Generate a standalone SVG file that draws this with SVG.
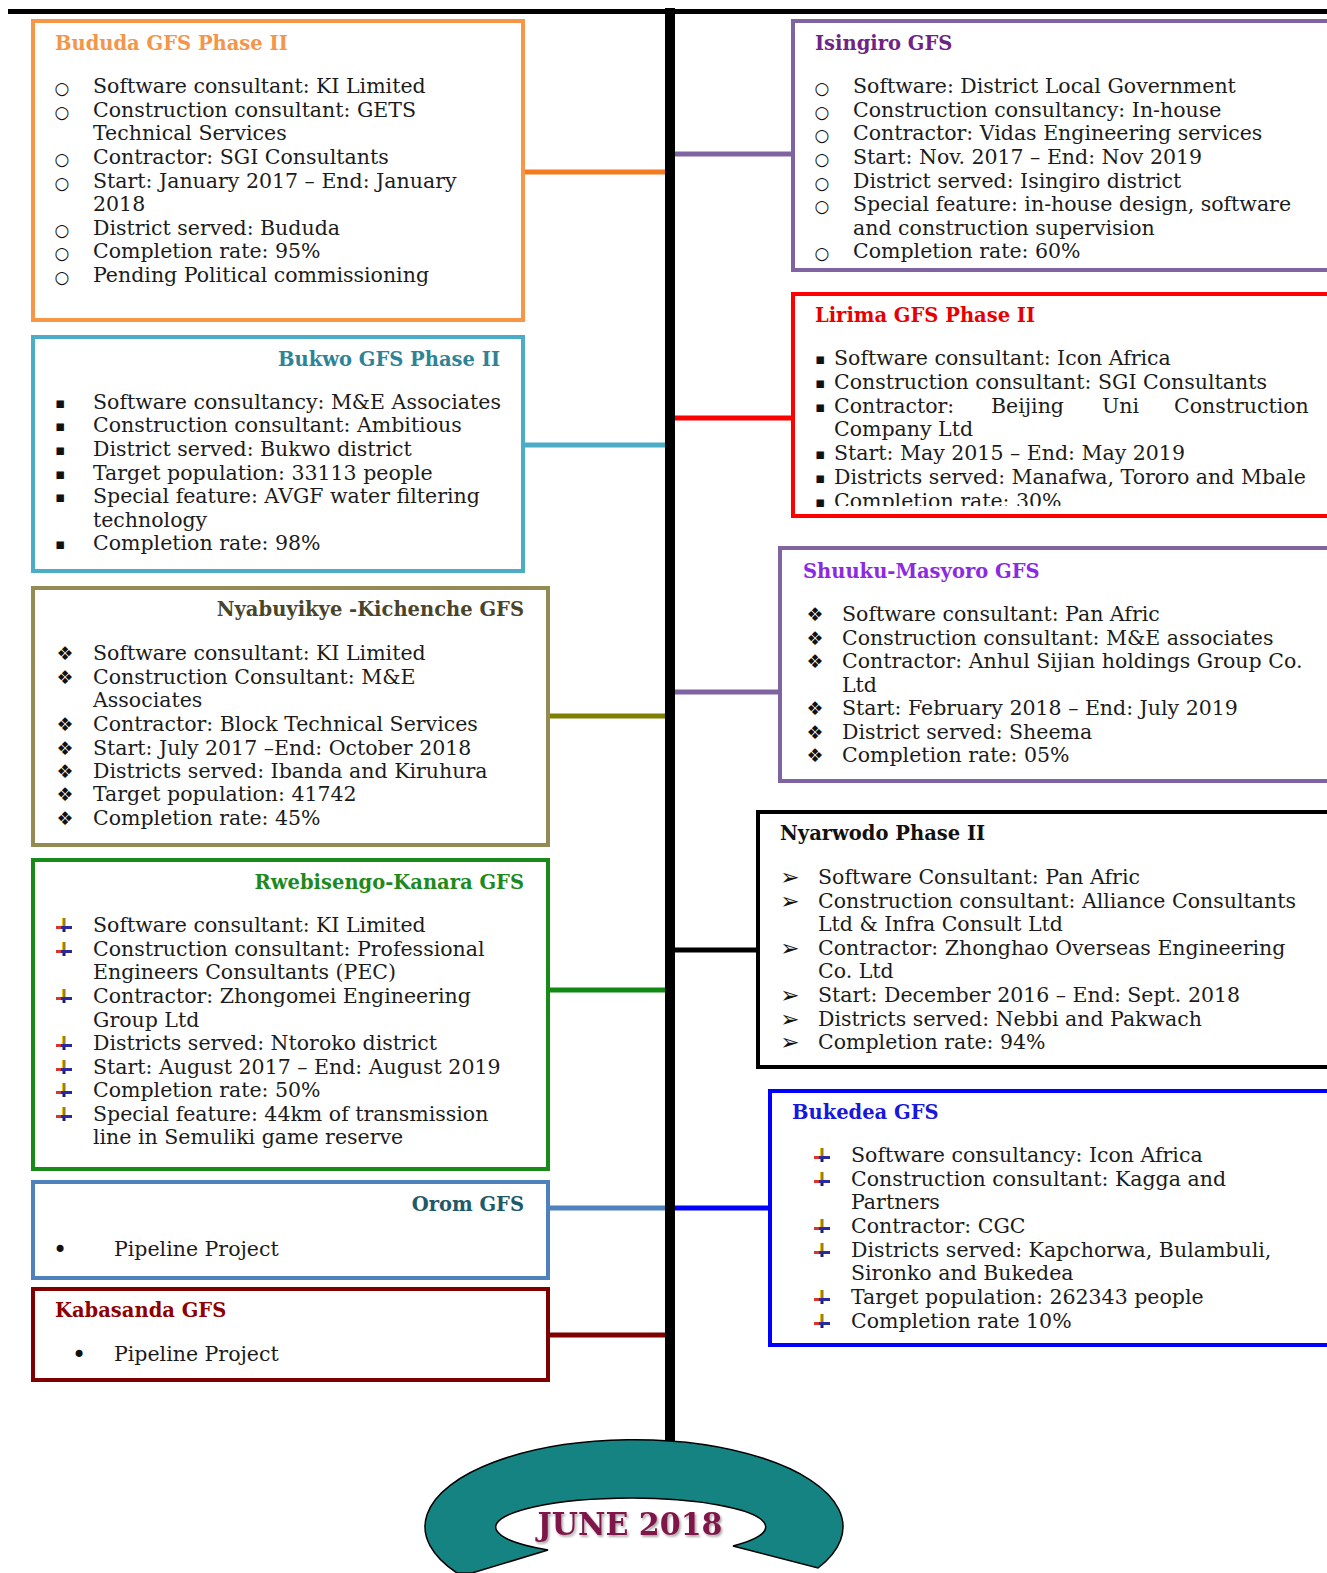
<svg xmlns="http://www.w3.org/2000/svg" xmlns:xlink="http://www.w3.org/1999/xlink" width="1327" height="1573" viewBox="0 0 1327 1573">
<style>
.t{font-family:"DejaVu Serif","Liberation Serif",serif;font-size:20.5px;fill:#1b1b1b}
.h{font-family:"DejaVu Serif","Liberation Serif",serif;font-size:19.5px;font-weight:bold}
.r{text-anchor:end}
.b{font-family:"DejaVu Sans",sans-serif;fill:#111;text-anchor:middle}
.bo{font-size:17px}
.bs{font-size:15px}
.bd{font-size:19px}
.ba{font-size:23px}
.bb{font-size:24px}
.box{fill:#fff;stroke-width:4}
.c{stroke-width:5;fill:none}
</style>
<defs>
<g id="ab">
<rect x="-2" y="-14" width="4" height="8" fill="#F2C200"/>
<rect x="-0.8" y="-14" width="1.6" height="8" fill="#7a6a40"/>
<rect x="-8" y="-6" width="16" height="3" fill="#2A2AA0"/>
<rect x="-8" y="-6" width="5" height="3" fill="#D8352C"/>
<rect x="-1.5" y="-3" width="3" height="3" fill="#1C1C6E"/>
</g>
<clipPath id="lirClip"><rect x="790" y="290" width="600" height="216"/></clipPath>
<filter id="sh" x="-10%" y="-30%" width="120%" height="160%"><feDropShadow dx="1.5" dy="2" stdDeviation="1.2" flood-color="#000" flood-opacity="0.35"/></filter>
</defs>
<rect width="1327" height="1573" fill="#fff"/>

<g id="connectors">
<path class="c" d="M523 172 H668" stroke="#F47B20"/>
<path class="c" d="M523 445 H668" stroke="#4BACC6"/>
<path class="c" d="M548 716 H668" stroke="#7F7F00"/>
<path class="c" d="M548 990 H668" stroke="#118811"/>
<path class="c" d="M548 1208 H668" stroke="#4F81BD"/>
<path class="c" d="M548 1335 H668" stroke="#7F0000"/>
<path class="c" d="M672 154 H793" stroke="#8064A2"/>
<path class="c" d="M672 418 H793" stroke="#FF0000"/>
<path class="c" d="M672 692 H780" stroke="#8064A2"/>
<path class="c" d="M672 950 H758" stroke="#000"/>
<path class="c" d="M672 1208 H770" stroke="#0000FF"/>
</g>

<g id="timeline">
<rect x="8" y="9" width="1319" height="5" fill="#000"/>
<rect x="665" y="8" width="10" height="1434" fill="#000"/>
</g>

<g id="bududa">
<rect class="box" x="33" y="21" width="490" height="299" stroke="#F79646"/>
<text class="h" x="55" y="50" fill="#F3954A">Bududa GFS Phase II</text>
<g class="b bo"><text x="62" y="94">○</text><text x="62" y="118">○</text><text x="62" y="165">○</text><text x="62" y="189">○</text><text x="62" y="236">○</text><text x="62" y="259">○</text><text x="62" y="283">○</text></g>
<text class="t" x="93" y="93">Software consultant: KI Limited</text>
<text class="t" x="93" y="117">Construction consultant: GETS</text>
<text class="t" x="93" y="140">Technical Services</text>
<text class="t" x="93" y="164">Contractor: SGI Consultants</text>
<text class="t" x="93" y="188">Start: January 2017 – End: January</text>
<text class="t" x="93" y="211">2018</text>
<text class="t" x="93" y="235">District served: Bududa</text>
<text class="t" x="93" y="258">Completion rate: 95%</text>
<text class="t" x="93" y="282">Pending Political commissioning</text>
</g>

<g id="bukwo">
<rect class="box" x="33" y="337" width="490" height="234" stroke="#4BACC6"/>
<text class="h r" x="500" y="366" fill="#2E8496">Bukwo GFS Phase II</text>
<g class="b bs"><text x="60" y="408">▪</text><text x="60" y="431">▪</text><text x="60" y="455">▪</text><text x="60" y="479">▪</text><text x="60" y="502">▪</text><text x="60" y="549">▪</text></g>
<text class="t" x="93" y="409">Software consultancy: M&amp;E Associates</text>
<text class="t" x="93" y="432">Construction consultant: Ambitious</text>
<text class="t" x="93" y="456">District served: Bukwo district</text>
<text class="t" x="93" y="480">Target population: 33113 people</text>
<text class="t" x="93" y="503">Special feature: AVGF water filtering</text>
<text class="t" x="93" y="527">technology</text>
<text class="t" x="93" y="550">Completion rate: 98%</text>
</g>

<g id="nyabuyikye">
<rect class="box" x="33" y="588" width="515" height="257" stroke="#948A54"/>
<text class="h r" x="524" y="616" fill="#4A452A">Nyabuyikye -Kichenche GFS</text>
<g class="b bd"><text x="65" y="660">❖</text><text x="65" y="684">❖</text><text x="65" y="731">❖</text><text x="65" y="755">❖</text><text x="65" y="778">❖</text><text x="65" y="801">❖</text><text x="65" y="825">❖</text></g>
<text class="t" x="93" y="660">Software consultant: KI Limited</text>
<text class="t" x="93" y="684">Construction Consultant: M&amp;E</text>
<text class="t" x="93" y="707">Associates</text>
<text class="t" x="93" y="731">Contractor: Block Technical Services</text>
<text class="t" x="93" y="755">Start: July 2017 –End: October 2018</text>
<text class="t" x="93" y="778">Districts served: Ibanda and Kiruhura</text>
<text class="t" x="93" y="801">Target population: 41742</text>
<text class="t" x="93" y="825">Completion rate: 45%</text>
</g>

<g id="rwebisengo">
<rect class="box" x="33" y="860" width="515" height="309" stroke="#178A17"/>
<text class="h r" x="524" y="889" fill="#1E8A1E">Rwebisengo-Kanara GFS</text>
<use xlink:href="#ab" x="64" y="932"/><use xlink:href="#ab" x="64" y="956"/><use xlink:href="#ab" x="64" y="1003"/><use xlink:href="#ab" x="64" y="1050"/><use xlink:href="#ab" x="64" y="1074"/><use xlink:href="#ab" x="64" y="1097"/><use xlink:href="#ab" x="64" y="1121"/>
<text class="t" x="93" y="932">Software consultant: KI Limited</text>
<text class="t" x="93" y="956">Construction consultant: Professional</text>
<text class="t" x="93" y="979">Engineers Consultants (PEC)</text>
<text class="t" x="93" y="1003">Contractor: Zhongomei Engineering</text>
<text class="t" x="93" y="1027">Group Ltd</text>
<text class="t" x="93" y="1050">Districts served: Ntoroko district</text>
<text class="t" x="93" y="1074">Start: August 2017 – End: August 2019</text>
<text class="t" x="93" y="1097">Completion rate: 50%</text>
<text class="t" x="93" y="1121">Special feature: 44km of transmission</text>
<text class="t" x="93" y="1144">line in Semuliki game reserve</text>
</g>

<g id="orom">
<rect class="box" x="33" y="1182" width="515" height="96" stroke="#4F81BD"/>
<text class="h r" x="524" y="1211" fill="#215968">Orom GFS</text>
<text class="b bb" x="60" y="1258">•</text>
<text class="t" x="114" y="1256">Pipeline Project</text>
</g>

<g id="kabasanda">
<rect class="box" x="33" y="1289" width="515" height="91" stroke="#7F0000"/>
<text class="h" x="55" y="1317" fill="#900000">Kabasanda GFS</text>
<text class="b bb" x="79" y="1363">•</text>
<text class="t" x="114" y="1361">Pipeline Project</text>
</g>

<g id="isingiro">
<rect class="box" x="793" y="21" width="560" height="249" stroke="#8064A2"/>
<text class="h" x="815" y="50" fill="#6E2385">Isingiro GFS</text>
<g class="b bo"><text x="822" y="94">○</text><text x="822" y="118">○</text><text x="822" y="141">○</text><text x="822" y="165">○</text><text x="822" y="189">○</text><text x="822" y="212">○</text><text x="822" y="259">○</text></g>
<text class="t" x="853" y="93">Software: District Local Government</text>
<text class="t" x="853" y="117">Construction consultancy: In-house</text>
<text class="t" x="853" y="140">Contractor: Vidas Engineering services</text>
<text class="t" x="853" y="164">Start: Nov. 2017 – End: Nov 2019</text>
<text class="t" x="853" y="188">District served: Isingiro district</text>
<text class="t" x="853" y="211">Special feature: in-house design, software</text>
<text class="t" x="853" y="235">and construction supervision</text>
<text class="t" x="853" y="258">Completion rate: 60%</text>
</g>

<g id="lirima">
<rect class="box" x="793" y="294" width="560" height="222" stroke="#FF0000"/>
<text class="h" x="815" y="322" fill="#E80000">Lirima GFS Phase II</text>
<g class="b bs"><text x="820" y="364">▪</text><text x="820" y="388">▪</text><text x="820" y="412">▪</text><text x="820" y="459">▪</text><text x="820" y="483">▪</text><text x="820" y="507">▪</text></g>
<text class="t" x="834" y="365">Software consultant: Icon Africa</text>
<text class="t" x="834" y="389">Construction consultant: SGI Consultants</text>
<text class="t" y="413"><tspan x="834">Contractor:</tspan><tspan x="991">Beijing</tspan><tspan x="1102">Uni</tspan><tspan x="1174">Construction</tspan></text>
<text class="t" x="834" y="436">Company Ltd</text>
<text class="t" x="834" y="460">Start: May 2015 – End: May 2019</text>
<text class="t" x="834" y="484">Districts served: Manafwa, Tororo and Mbale</text>
<text class="t" x="834" y="508" clip-path="url(#lirClip)">Completion rate: 30%</text>
</g>

<g id="shuuku">
<rect class="box" x="780" y="548" width="580" height="233" stroke="#8064A2"/>
<text class="h" x="803" y="578" fill="#8A2BE2">Shuuku-Masyoro GFS</text>
<g class="b bd"><text x="815" y="621">❖</text><text x="815" y="645">❖</text><text x="815" y="668">❖</text><text x="815" y="715">❖</text><text x="815" y="739">❖</text><text x="815" y="762">❖</text></g>
<text class="t" x="842" y="621">Software consultant: Pan Afric</text>
<text class="t" x="842" y="645">Construction consultant: M&amp;E associates</text>
<text class="t" x="842" y="668">Contractor: Anhul Sijian holdings Group Co.</text>
<text class="t" x="842" y="692">Ltd</text>
<text class="t" x="842" y="715">Start: February 2018 – End: July 2019</text>
<text class="t" x="842" y="739">District served: Sheema</text>
<text class="t" x="842" y="762">Completion rate: 05%</text>
</g>

<g id="nyarwodo">
<rect class="box" x="758" y="812" width="600" height="255" stroke="#000"/>
<text class="h" x="780" y="840" fill="#111">Nyarwodo Phase II</text>
<g class="b ba"><text x="790" y="885">➢</text><text x="790" y="909">➢</text><text x="790" y="956">➢</text><text x="790" y="1003">➢</text><text x="790" y="1027">➢</text><text x="790" y="1050">➢</text></g>
<text class="t" x="818" y="884">Software Consultant: Pan Afric</text>
<text class="t" x="818" y="908">Construction consultant: Alliance Consultants</text>
<text class="t" x="818" y="931">Ltd &amp; Infra Consult Ltd</text>
<text class="t" x="818" y="955">Contractor: Zhonghao Overseas Engineering</text>
<text class="t" x="818" y="978">Co. Ltd</text>
<text class="t" x="818" y="1002">Start: December 2016 – End: Sept. 2018</text>
<text class="t" x="818" y="1026">Districts served: Nebbi and Pakwach</text>
<text class="t" x="818" y="1049">Completion rate: 94%</text>
</g>

<g id="bukedea">
<rect class="box" x="770" y="1091" width="600" height="254" stroke="#0000FF"/>
<text class="h" x="792" y="1119" fill="#1717DD">Bukedea GFS</text>
<use xlink:href="#ab" x="822" y="1162"/><use xlink:href="#ab" x="822" y="1186"/><use xlink:href="#ab" x="822" y="1233"/><use xlink:href="#ab" x="822" y="1257"/><use xlink:href="#ab" x="822" y="1304"/><use xlink:href="#ab" x="822" y="1328"/>
<text class="t" x="851" y="1162">Software consultancy: Icon Africa</text>
<text class="t" x="851" y="1186">Construction consultant: Kagga and</text>
<text class="t" x="851" y="1209">Partners</text>
<text class="t" x="851" y="1233">Contractor: CGC</text>
<text class="t" x="851" y="1257">Districts served: Kapchorwa, Bulambuli,</text>
<text class="t" x="851" y="1280">Sironko and Bukedea</text>
<text class="t" x="851" y="1304">Target population: 262343 people</text>
<text class="t" x="851" y="1328">Completion rate 10%</text>
</g>

<g id="date">
<path d="M457 1573 A209 87 0 1 1 818 1568 L733 1546 A135 29 0 1 0 548 1550 L472 1573 Z" fill="#148381" stroke="#000" stroke-width="1.5"/>
<text x="630" y="1535" text-anchor="middle" font-family="'DejaVu Serif','Liberation Serif',serif" font-weight="bold" font-size="31" fill="#7E1848" textLength="185" lengthAdjust="spacingAndGlyphs" filter="url(#sh)">JUNE 2018</text>
</g>
</svg>
